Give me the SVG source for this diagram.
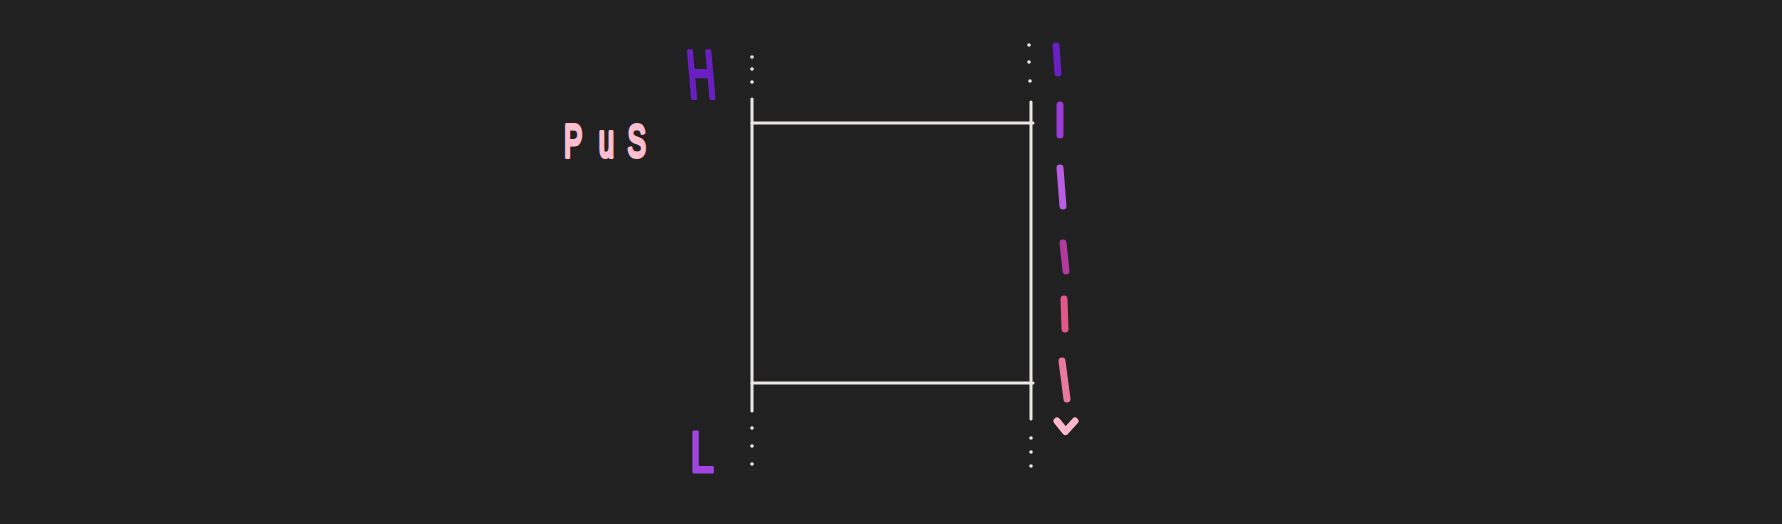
<svg xmlns="http://www.w3.org/2000/svg" width="1782" height="524" viewBox="0 0 1782 524">
<style>
.ln{stroke:#ebe8e3;stroke-width:3;stroke-linecap:round;fill:none}
.dot{fill:#ebe8e3}
.ds{stroke-width:7;stroke-linecap:round;stroke-linejoin:round;fill:none}
.hw{font-family:"Liberation Sans",Arial,sans-serif;stroke-linejoin:round;stroke-linecap:round}
</style>
<rect width="1782" height="524" fill="#212121"/>
<g id="frame">
<line class="ln" x1="752" y1="99" x2="752" y2="411"/>
<line class="ln" x1="1031" y1="102" x2="1031" y2="419"/>
<line class="ln" x1="752" y1="123" x2="1033" y2="123"/>
<line class="ln" x1="752" y1="383" x2="1033" y2="383"/>
</g>
<g id="dots">
<circle class="dot" cx="752" cy="57" r="1.8"/>
<circle class="dot" cx="752" cy="69" r="1.8"/>
<circle class="dot" cx="752" cy="82" r="1.8"/>
<circle class="dot" cx="752" cy="428" r="1.8"/>
<circle class="dot" cx="752" cy="446" r="1.8"/>
<circle class="dot" cx="752" cy="464" r="1.8"/>
<circle class="dot" cx="1029" cy="45" r="1.8"/>
<circle class="dot" cx="1029" cy="62" r="1.8"/>
<circle class="dot" cx="1030" cy="81" r="1.8"/>
<circle class="dot" cx="1031" cy="438" r="1.8"/>
<circle class="dot" cx="1031" cy="452" r="1.8"/>
<circle class="dot" cx="1031" cy="466" r="1.8"/>
</g>
<g id="connectors">
<line class="ds" stroke="#6a1fc2" x1="1056" y1="46" x2="1058" y2="73"/>
<line class="ds" stroke="#9a3bd8" x1="1060" y1="105" x2="1060" y2="135"/>
<line class="ds" stroke="#b95ee2" x1="1060" y1="168" x2="1063" y2="206"/>
<line class="ds" stroke="#b03a9e" x1="1063" y1="243" x2="1066" y2="271"/>
<line class="ds" stroke="#e0588a" x1="1064" y1="299" x2="1065" y2="329"/>
<line class="ds" stroke="#e87aa0" x1="1062" y1="361" x2="1067" y2="399"/>
<polyline class="ds" stroke="#ffb8cc" points="1057,421 1065.5,431.5 1075,421"/>
</g>
<g id="label-H">
<text class="hw" transform="translate(689,98) skewX(5) scale(0.58,1)" x="0" y="0" font-size="68" fill="#6a1fc2" stroke="#6a1fc2" stroke-width="4">H</text>
</g>
<g id="label-L">
<text class="hw" transform="translate(690,472) scale(0.75,1)" x="0" y="0" font-size="58" fill="#a045e0" stroke="#a045e0" stroke-width="3">L</text>
</g>
<g id="label-PUS">
<text class="hw" transform="translate(0,157) scale(0.6,1)" x="940 998 1046" y="0" font-size="46" fill="#ffbdd0" stroke="#ffbdd0" stroke-width="4">PuS</text>
</g>
</svg>
